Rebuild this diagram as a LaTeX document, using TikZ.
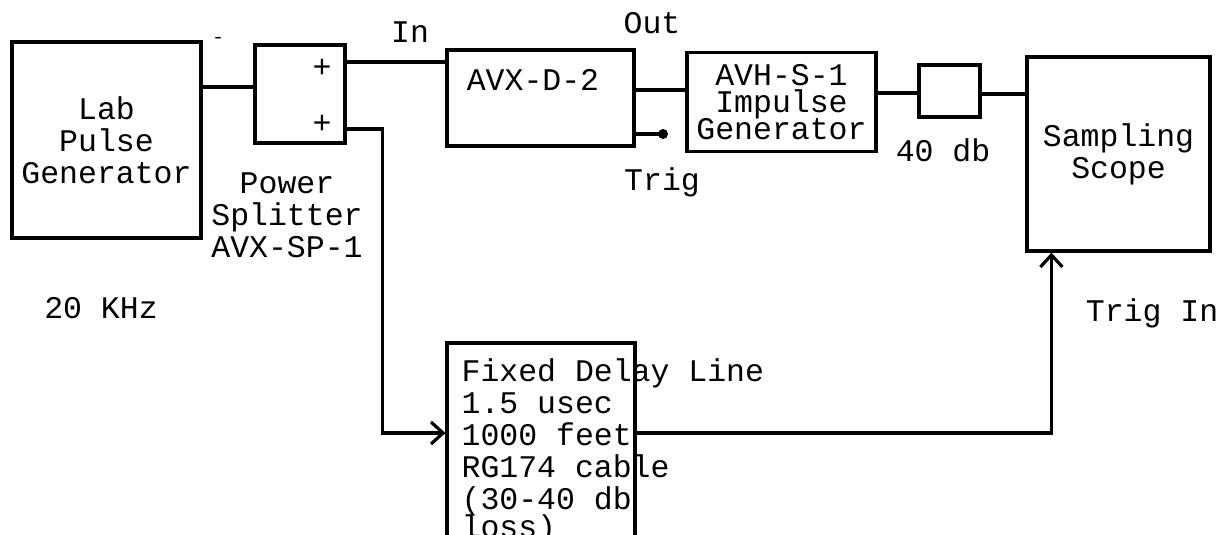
\documentclass[tikz,border=0pt]{standalone}
\usepackage{fontspec}
\setmonofont{Liberation Mono}
\usetikzlibrary{arrows.meta,positioning}
\newcommand\tightlines{\lineskiplimit=-20pt\relax}

\begin{document}
\begin{tikzpicture}[
  x=0.5pt, y=-0.5pt,
  line width=1.6pt,
  every node/.style={font=\ttfamily\fontsize{15.75}{16}\selectfont, inner sep=0pt},
  blk/.style={draw, line width=1.6pt, align=center},
  tight/.style={font=\ttfamily\fontsize{15.75}{13.5}\selectfont\tightlines},
  lbl/.style={align=center},
  >={Straight Barb[length=6pt,width=11pt]}
]
\useasboundingbox (0,0) rectangle (1231,535);
\clip (0,0) rectangle (1231,535);

% Source and splitter
\node[blk, minimum width=94.5pt, minimum height=98pt] (gen) at (106.5,140)
  {Lab\\Pulse\\Generator};
\node[blk, minimum width=45pt, minimum height=49pt] (split) at (300,94) {};
\node (plusa) at (322,68) {+};
\node (plusb) at (322,124) {+};

% Pulse chain
\node[blk, minimum width=93.5pt, minimum height=48pt] (avxd) at (540.5,98) {};
\node (avxdtxt) at (533,80) {AVX-D-2};
\node[blk, tight, minimum width=94.5pt, minimum height=49.5pt] (avh) at (781.5,102)
  {AVH-S-1\\Impulse\\Generator};
\node[blk, minimum width=30.5pt, minimum height=26pt] (atten) at (949.5,91) {};
\node[blk, minimum width=91.5pt, minimum height=97pt] (scope) at (1118.5,154)
  {Sampling\\Scope};

% Delay line
\node[blk, minimum width=94pt, minimum height=108.5pt] (delay) at (541,451.5) {};
\node[anchor=north west, align=left] (delaytxt) at (460,357)
  {Fixed Delay Line\\1.5 usec\\1000 feet\\RG174 cable\\(30-40 db\\[-2pt]loss)};

% Labels
\node (dash) at (218,40) {\fontsize{10}{10}\selectfont -};
\node[lbl] (splittxt) at (287,215) {Power\\Splitter\\AVX-SP-1};
\node (freq) at (101,308) {20 KHz};
\node (intxt) at (410,32) {In};
\node (outtxt) at (652,23) {Out};
\node (trigtxt) at (662,182) {Trig};
\node (dbtxt) at (943,150) {40 db};
\node (trigin) at (1152,313) {Trig In};

% Connectors
\coordinate (trigdot) at (663,134);
\draw ([yshift=3.5pt]split.west) -- ([yshift=3.5pt]split.west -| gen.east);
\draw ([yshift=16pt]split.east) -- ([yshift=16pt]split.east -| avxd.west);
\draw ([yshift=4pt]avxd.east) -- ([yshift=4pt]avxd.east -| avh.west);
\draw ([yshift=-18pt]avxd.east) -- (trigdot);
\fill (trigdot) circle (2.5pt);
\draw ([yshift=-1pt]atten.west -| avh.east) -- ([yshift=-1pt]atten.west);
\draw ([yshift=-1.5pt]atten.east) -- ([yshift=-1.5pt]atten.east -| scope.west);
\draw[->] ([yshift=-17.5pt]split.east) -- ++(18pt,0) |- ([yshift=9.25pt]delay.west);
\draw[->] ([yshift=9.25pt]delay.east) -| ([xshift=13pt]scope.south west);

\end{tikzpicture}
\end{document}
